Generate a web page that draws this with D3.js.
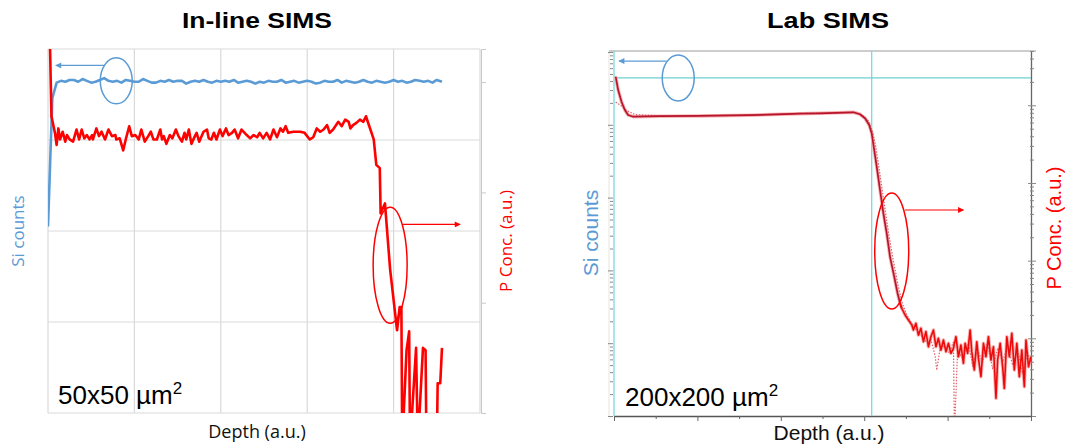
<!DOCTYPE html>
<html>
<head>
<meta charset="utf-8">
<script src="https://cdn.jsdelivr.net/npm/d3@7"></script>
<style>
  body { margin: 0; background: #fff; }
  svg { display: block; }
</style>
</head>
<body>
<svg id="chart" width="1065" height="446"></svg>
<script>
// ---- In-line SIMS data (depth in a.u., Si counts / P conc. in a.u.)
var inlineSi = [
  [0, 2.05], [0.05, 3.46], [0.10, 3.63], [0.15, 3.65], [0.20, 3.64], [0.25, 3.66], [0.30, 3.66],
  [0.35, 3.64], [0.40, 3.67], [0.45, 3.65], [0.50, 3.63], [0.55, 3.64], [0.60, 3.66], [0.65, 3.68],
  [0.70, 3.65], [0.75, 3.64], [0.80, 3.65], [0.85, 3.63], [0.90, 3.66], [0.95, 3.65], [1.00, 3.64],
  [1.05, 3.64], [1.10, 3.67], [1.15, 3.65], [1.20, 3.63], [1.25, 3.63], [1.30, 3.65], [1.35, 3.64],
  [1.40, 3.66], [1.45, 3.64], [1.50, 3.65], [1.55, 3.65], [1.60, 3.62], [1.65, 3.64], [1.70, 3.65],
  [1.75, 3.64], [1.80, 3.66], [1.85, 3.64], [1.90, 3.63], [1.95, 3.65], [2.00, 3.64], [2.05, 3.65],
  [2.10, 3.64], [2.15, 3.66], [2.20, 3.63], [2.25, 3.64], [2.30, 3.65], [2.35, 3.64], [2.40, 3.62],
  [2.45, 3.64], [2.50, 3.63], [2.55, 3.65], [2.60, 3.64], [2.65, 3.64], [2.70, 3.66], [2.75, 3.63],
  [2.80, 3.64], [2.85, 3.65], [2.90, 3.63], [2.95, 3.64], [3.00, 3.65], [3.05, 3.64], [3.10, 3.62],
  [3.15, 3.63], [3.20, 3.65], [3.25, 3.64], [3.30, 3.64], [3.35, 3.66], [3.40, 3.63], [3.45, 3.65],
  [3.50, 3.64], [3.55, 3.63], [3.60, 3.64], [3.65, 3.66], [3.70, 3.64], [3.75, 3.63], [3.80, 3.65],
  [3.85, 3.64], [3.90, 3.63], [3.95, 3.64], [4.00, 3.66], [4.05, 3.64], [4.10, 3.65], [4.15, 3.63],
  [4.20, 3.64], [4.25, 3.66], [4.30, 3.65], [4.35, 3.64], [4.40, 3.65], [4.45, 3.63], [4.50, 3.66],
  [4.56, 3.64]
];

var inlineP = [
  [0.02, 3.45], [0.04, 2.69], [0.08, 2.54], [0.10, 2.43], [0.12, 2.58], [0.14, 2.48], [0.17, 2.55],
  [0.20, 2.46], [0.22, 2.52], [0.25, 2.48], [0.29, 2.46], [0.33, 2.57], [0.36, 2.48], [0.39, 2.57],
  [0.42, 2.49], [0.45, 2.52], [0.48, 2.48], [0.51, 2.52], [0.52, 2.48], [0.56, 2.58], [0.59, 2.51],
  [0.62, 2.55], [0.66, 2.48], [0.70, 2.57], [0.74, 2.51], [0.78, 2.52], [0.79, 2.48], [0.83, 2.49],
  [0.87, 2.38], [0.90, 2.48], [0.94, 2.60], [0.97, 2.51], [1.01, 2.52], [1.05, 2.48], [1.08, 2.57],
  [1.12, 2.46], [1.16, 2.51], [1.19, 2.55], [1.22, 2.48], [1.26, 2.48], [1.30, 2.57], [1.32, 2.48],
  [1.34, 2.51], [1.37, 2.44], [1.41, 2.52], [1.44, 2.49], [1.48, 2.57], [1.51, 2.51], [1.55, 2.46],
  [1.58, 2.54], [1.60, 2.48], [1.63, 2.57], [1.66, 2.44], [1.70, 2.51], [1.72, 2.54], [1.75, 2.46],
  [1.80, 2.55], [1.84, 2.57], [1.86, 2.49], [1.89, 2.48], [1.92, 2.54], [1.95, 2.48], [1.99, 2.57],
  [2.02, 2.51], [2.06, 2.58], [2.09, 2.52], [2.13, 2.54], [2.16, 2.57], [2.20, 2.49], [2.24, 2.57],
  [2.30, 2.52], [2.34, 2.49], [2.38, 2.52], [2.42, 2.50], [2.45, 2.54], [2.49, 2.49], [2.53, 2.54],
  [2.57, 2.48], [2.61, 2.57], [2.65, 2.50], [2.69, 2.58], [2.72, 2.55], [2.75, 2.60], [2.78, 2.54],
  [2.84, 2.55], [2.92, 2.55], [2.97, 2.54], [3.03, 2.48], [3.07, 2.50], [3.11, 2.58], [3.15, 2.55],
  [3.19, 2.57], [3.23, 2.61], [3.26, 2.54], [3.30, 2.57], [3.36, 2.64], [3.40, 2.60], [3.44, 2.66],
  [3.48, 2.64], [3.50, 2.58], [3.53, 2.61], [3.57, 2.63], [3.61, 2.66], [3.65, 2.64], [3.68, 2.69],
  [3.71, 2.62], [3.77, 2.48], [3.80, 2.25], [3.84, 2.22], [3.85, 1.81], [3.90, 1.90], [3.96, 1.30],
  [4.04, 0.75], [4.07, 0.96], [4.09, 0.96], [4.10, -0.3], [4.15, 0.57], [4.18, 0.74], [4.19, -0.3],
  [4.26, 0.59], [4.28, -0.3], [4.34, 0.59], [4.37, 0.57], [4.38, -0.3], [4.50, -0.3], [4.51, 0.27],
  [4.54, 0.27], [4.56, 0.59]
];

// ---- Lab SIMS data (depth in a.u., Si counts, P conc. in at/cm3)
var labSi = [[0, 4.4e4], [5, 4.4e4]];
var labInterface = 3.09;

var labP = [
  [0.02, 2.34e19], [0.05, 1.57e19], [0.09, 1.11e19], [0.13, 8.71e18], [0.17, 7.50e18], [0.23, 7.13e18],
  [0.55, 7.25e18], [1.03, 7.29e18], [1.63, 7.45e18], [2.23, 7.80e18], [2.47, 7.89e18], [2.87, 8.13e18],
  [2.95, 7.66e18], [3.01, 6.81e18], [3.06, 5.58e18], [3.09, 4.36e18], [3.12, 2.66e18], [3.15, 1.62e18],
  [3.19, 8.12e17], [3.23, 4.07e17], [3.27, 2.25e17], [3.31, 1.12e17], [3.36, 6.22e16], [3.40, 3.80e16],
  [3.43, 2.83e16], [3.45, 2.44e16], [3.49, 2.00e16], [3.53, 1.72e16], [3.57, 1.49e16], [3.59, 1.28e16],
  [3.62, 1.56e16], [3.65, 1.10e16], [3.68, 1.35e16], [3.71, 9.05e15], [3.74, 1.22e16], [3.77, 7.80e15],
  [3.80, 1.05e16], [3.83, 1.28e16], [3.86, 7.80e15], [3.89, 1.00e16], [3.92, 7.08e15], [3.95, 9.52e15],
  [3.98, 6.73e15], [4.01, 8.63e15], [4.04, 6.41e15], [4.07, 7.44e15], [4.10, 1.05e16], [4.13, 5.80e15],
  [4.16, 8.20e15], [4.19, 4.77e15], [4.21, 8.63e15], [4.24, 6.41e15], [4.27, 1.28e16], [4.29, 6.73e15],
  [4.32, 3.91e15], [4.35, 9.05e15], [4.37, 5.53e15], [4.40, 3.21e15], [4.43, 8.63e15], [4.46, 5.80e15],
  [4.49, 1.05e16], [4.52, 5.26e15], [4.55, 7.80e15], [4.58, 1.69e15], [4.60, 5.26e15], [4.63, 8.63e15],
  [4.66, 4.31e15], [4.68, 2.27e15], [4.71, 1.05e16], [4.74, 5.80e15], [4.77, 1.16e16], [4.80, 3.91e15],
  [4.83, 8.63e15], [4.86, 3.21e15], [4.89, 7.08e15], [4.92, 2.38e15], [4.94, 9.52e15], [4.97, 4.31e15],
  [5.00, 5.80e15]
];

// second (dotted) P profile of the lab measurement
var labPRef = [
  [0.02, 1.10e19], [0.08, 1.00e19], [0.15, 8.60e18], [0.25, 7.60e18], [0.60, 7.30e18], [1.50, 7.50e18],
  [2.30, 7.90e18], [2.88, 8.20e18], [2.98, 7.40e18], [3.05, 6.30e18], [3.10, 4.60e18], [3.14, 2.90e18],
  [3.18, 1.50e18], [3.22, 7.60e17], [3.26, 3.90e17], [3.30, 2.00e17], [3.35, 1.00e17], [3.40, 5.20e16],
  [3.45, 3.00e16], [3.50, 2.10e16], [3.56, 1.60e16], [3.62, 1.30e16], [3.68, 1.10e16], [3.74, 9.00e15],
  [3.80, 9.50e15], [3.85, 6.00e15], [3.87, 3.90e15], [3.91, 7.50e15], [3.96, 8.00e15], [4.02, 6.50e15],
  [4.07, 9.00e15], [4.08, 1.00e15], [4.09, 1.00e15], [4.12, 7.00e15], [4.18, 5.50e15], [4.25, 8.50e15],
  [4.30, 4.50e15], [4.36, 7.00e15], [4.42, 5.00e15], [4.48, 9.00e15], [4.54, 4.00e15], [4.60, 7.50e15],
  [4.66, 5.00e15], [4.72, 8.00e15], [4.78, 4.50e15], [4.84, 7.00e15], [4.90, 3.50e15], [4.96, 6.50e15],
  [5.00, 5.00e15]
];

var siBlue = '#5b9bd5';
var pRed = '#ff0000';
var svg = d3.select('#chart');

// arrow heads
var defs = svg.append('defs');
[['arrBlue', siBlue], ['arrRed', pRed]].forEach(function (a) {
  defs.append('marker')
    .attr('id', a[0]).attr('viewBox', '0 0 10 10')
    .attr('refX', 9).attr('refY', 5)
    .attr('markerWidth', 7).attr('markerHeight', 6)
    .attr('markerUnits', 'userSpaceOnUse')
    .attr('orient', 'auto')
    .append('path').attr('d', 'M0,0L10,5L0,10z').attr('fill', a[1]);
});

function addClip(id, x0, y0, x1, y1) {
  defs.append('clipPath').attr('id', id)
    .append('rect').attr('x', x0).attr('y', y0).attr('width', x1 - x0).attr('height', y1 - y0);
}

function annotate(g, xs, ys, e, color, marker) {
  g.append('ellipse')
    .attr('cx', xs(e.cx)).attr('cy', ys(e.cy))
    .attr('rx', e.rx).attr('ry', e.ry)
    .attr('fill', 'none').attr('stroke', color).attr('stroke-width', 1.5);
  g.append('line')
    .attr('x1', xs(e.ax1)).attr('x2', xs(e.ax2))
    .attr('y1', ys(e.ay)).attr('y2', ys(e.ay))
    .attr('stroke', color).attr('stroke-width', 1.2)
    .attr('marker-end', 'url(#' + marker + ')');
}

function title(g, x, txt, len) {
  g.append('text').attr('x', x).attr('y', 28)
    .attr('text-anchor', 'middle')
    .attr('textLength', len).attr('lengthAdjust', 'spacingAndGlyphs')
    .style('font', 'bold 22px "Liberation Sans", Arial, sans-serif')
    .text(txt);
}

// ================= In-line SIMS =================
var inX = d3.scaleLinear().domain([0, 5]).range([48, 480]);
var inSi = d3.scaleLinear().domain([0, 4]).range([413, 49]);
var inP = d3.scaleLinear().domain([0, 3.3]).range([413, 49]);

var gIn = svg.append('g');

gIn.selectAll('line.vgrid').data(inX.ticks(5)).enter().append('line')
  .attr('class', 'vgrid')
  .attr('x1', function (d) { return inX(d); }).attr('x2', function (d) { return inX(d); })
  .attr('y1', inSi.range()[1]).attr('y2', inSi.range()[0])
  .attr('stroke', '#d9d9d9').attr('stroke-width', 1.2);

gIn.selectAll('line.hgrid').data(inSi.ticks(4)).enter().append('line')
  .attr('class', 'hgrid')
  .attr('x1', inX.range()[0]).attr('x2', inX.range()[1])
  .attr('y1', function (d) { return inSi(d); }).attr('y2', function (d) { return inSi(d); })
  .attr('stroke', '#d9d9d9').attr('stroke-width', 1.2);

// secondary axis (P) on the right, no labels
gIn.append('g')
  .attr('transform', 'translate(' + (inX.range()[1] + 1) + ',0)')
  .call(d3.axisRight(inP).tickValues([0, 1, 2, 3]).tickSize(5).tickFormat(''))
  .call(function (g) {
    g.selectAll('line, path').attr('stroke', '#c8c8c8');
  });

addClip('clipIn', 48, 49, 481, 413);
var plotIn = gIn.append('g').attr('clip-path', 'url(#clipIn)');

plotIn.append('path').datum(inlineSi)
  .attr('fill', 'none').attr('stroke', siBlue).attr('stroke-width', 2.6)
  .attr('stroke-linejoin', 'round')
  .attr('d', d3.line().x(function (d) { return inX(d[0]); }).y(function (d) { return inSi(d[1]); }));

plotIn.append('path').datum(inlineP)
  .attr('fill', 'none').attr('stroke', pRed).attr('stroke-width', 2.6)
  .attr('stroke-linejoin', 'round')
  .attr('d', d3.line().x(function (d) { return inX(d[0]); }).y(function (d) { return inP(d[1]); }));

annotate(gIn, inX, inSi, { cx: 0.79, cy: 3.65, rx: 16, ry: 23, ax1: 0.66, ax2: 0.09, ay: 3.82 }, siBlue, 'arrBlue');
annotate(gIn, inX, inP, { cx: 3.96, cy: 1.34, rx: 17, ry: 58, ax1: 4.11, ax2: 4.77, ay: 1.71 }, pRed, 'arrRed');

title(gIn, 257, 'In-line SIMS', 150);

gIn.append('text').attr('x', 257).attr('y', 438)
  .attr('text-anchor', 'middle')
  .style('font', '18px "Open Sans", sans-serif').attr('fill', '#111')
  .text('Depth (a.u.)');

gIn.append('text')
  .attr('transform', 'translate(24,231) rotate(-90)')
  .attr('text-anchor', 'middle')
  .style('font', '17px "Open Sans", sans-serif').attr('fill', siBlue)
  .text('Si counts');

gIn.append('text')
  .attr('transform', 'translate(512,241) rotate(-90)')
  .attr('text-anchor', 'middle')
  .style('font', '17px "Open Sans", sans-serif').attr('fill', pRed)
  .text('P Conc. (a.u.)');

var areaIn = gIn.append('text').attr('x', 58).attr('y', 404)
  .style('font', '26px "Liberation Sans", Arial, sans-serif').attr('fill', '#000');
areaIn.append('tspan').text('50x50 µm');
areaIn.append('tspan').attr('dy', -10).style('font-size', '17px').text('2');

// ================= Lab SIMS =================
var labX = d3.scaleLinear().domain([0, 5]).range([614, 1031]);
var labSiY = d3.scaleLog().domain([1, 1e5]).range([416, 52]);
var labPY = d3.scaleLog().domain([1e15, 5e19]).range([416, 51]);

var gLab = svg.append('g');

// frame
gLab.append('line').attr('x1', 609).attr('x2', 1036).attr('y1', 51).attr('y2', 51)
  .attr('stroke', '#9a9a9a').attr('stroke-width', 1);
gLab.append('line').attr('x1', 609).attr('x2', 609).attr('y1', 51).attr('y2', 416)
  .attr('stroke', '#e4e4e4').attr('stroke-width', 1);

function isDecade(v) {
  var l = Math.log10(v);
  return Math.abs(l - Math.round(l)) < 1e-6;
}

// left log axis (Si)
gLab.append('g')
  .attr('transform', 'translate(613,0)')
  .call(d3.axisLeft(labSiY).tickFormat('').tickSizeOuter(0).tickSizeInner(3))
  .call(function (g) {
    g.select('.domain').remove();
    g.selectAll('.tick line').attr('stroke', '#888')
      .attr('x2', function (d) { return isDecade(d) ? -5 : -3; });
  });

// right log axis (P)
gLab.append('g')
  .attr('transform', 'translate(1031,0)')
  .call(d3.axisRight(labPY).tickFormat('').tickSizeOuter(0).tickSizeInner(3))
  .call(function (g) {
    g.select('.domain').attr('stroke', '#666').attr('stroke-width', 1.3);
    g.selectAll('.tick line').attr('stroke', '#888')
      .attr('x1', function (d) { return isDecade(d) ? -3 : -1; })
      .attr('x2', function (d) { return isDecade(d) ? 5 : 3; });
  });

// bottom axis
gLab.append('g')
  .attr('transform', 'translate(0,416)')
  .call(d3.axisBottom(labX).tickValues(d3.range(0, 5.01, 0.5)).tickFormat('').tickSizeOuter(0))
  .call(function (g) {
    g.select('.domain').attr('stroke', '#555').attr('stroke-width', 1.3);
    g.selectAll('.tick line').attr('stroke', '#666')
      .attr('y2', function (d) { return Math.abs(d - Math.round(d)) < 1e-6 ? 5 : 3; });
  });

// Si axis line and interface marker
gLab.append('line').attr('x1', labX(0)).attr('x2', labX(0))
  .attr('y1', 51).attr('y2', 416).attr('stroke', '#79dada').attr('stroke-width', 1.3);
gLab.append('line').attr('x1', labX(labInterface)).attr('x2', labX(labInterface))
  .attr('y1', 51).attr('y2', 416).attr('stroke', '#79dada').attr('stroke-width', 1.3);

addClip('clipLab', 614, 51, 1031, 416);
var plotLab = gLab.append('g').attr('clip-path', 'url(#clipLab)');

plotLab.append('path').datum(labSi)
  .attr('fill', 'none').attr('stroke', '#6fcfcf').attr('stroke-width', 1.3)
  .attr('d', d3.line().x(function (d) { return labX(d[0]); }).y(function (d) { return labSiY(d[1]); }));

var labLine = d3.line()
  .x(function (d) { return labX(d[0]); })
  .y(function (d) { return labPY(d[1]); });

// soft halo under the main profile
plotLab.append('path').datum(labP)
  .attr('fill', 'none').attr('stroke', '#f6b4b4').attr('stroke-width', 3.5)
  .attr('stroke-linejoin', 'round').attr('d', labLine);

plotLab.append('path').datum(labPRef)
  .attr('fill', 'none').attr('stroke', '#e0606a').attr('stroke-width', 1.2)
  .attr('stroke-dasharray', '1.5,1.5').attr('d', labLine);

plotLab.append('path').datum(labP.filter(function (d) { return d[0] <= 3.45; }))
  .attr('fill', 'none').attr('stroke', '#b8142c').attr('stroke-width', 1.7)
  .attr('stroke-linejoin', 'round').attr('d', labLine);

plotLab.append('path').datum(labP.filter(function (d) { return d[0] >= 3.43; }))
  .attr('fill', 'none').attr('stroke', '#ee0a0a').attr('stroke-width', 1.6)
  .attr('stroke-linejoin', 'round').attr('d', labLine);

annotate(gLab, labX, labSiY, { cx: 0.77, cy: 4.4e4, rx: 16, ry: 23, ax1: 0.63, ax2: 0.06, ay: 7.5e4 }, siBlue, 'arrBlue');
annotate(gLab, labX, labPY, { cx: 3.33, cy: 1.33e17, rx: 17, ry: 58, ax1: 3.49, ax2: 4.19, ay: 4.49e17 }, pRed, 'arrRed');

title(gLab, 828, 'Lab SIMS', 122);

gLab.append('text').attr('x', 829).attr('y', 440)
  .attr('text-anchor', 'middle')
  .style('font', '21px "Liberation Sans", Arial, sans-serif').attr('fill', '#111')
  .text('Depth (a.u.)');

gLab.append('text')
  .attr('transform', 'translate(598,233) rotate(-90)')
  .attr('text-anchor', 'middle')
  .style('font', '21px "Liberation Sans", Arial, sans-serif').attr('fill', siBlue)
  .text('Si counts');

gLab.append('text')
  .attr('transform', 'translate(1061,228) rotate(-90)')
  .attr('text-anchor', 'middle')
  .style('font', '20px "Liberation Sans", Arial, sans-serif').attr('fill', pRed)
  .text('P Conc. (a.u.)');

var areaLab = gLab.append('text').attr('x', 625).attr('y', 406)
  .style('font', '26px "Liberation Sans", Arial, sans-serif').attr('fill', '#000');
areaLab.append('tspan').text('200x200 µm');
areaLab.append('tspan').attr('dy', -10).style('font-size', '17px').text('2');
</script>
</body>
</html>
